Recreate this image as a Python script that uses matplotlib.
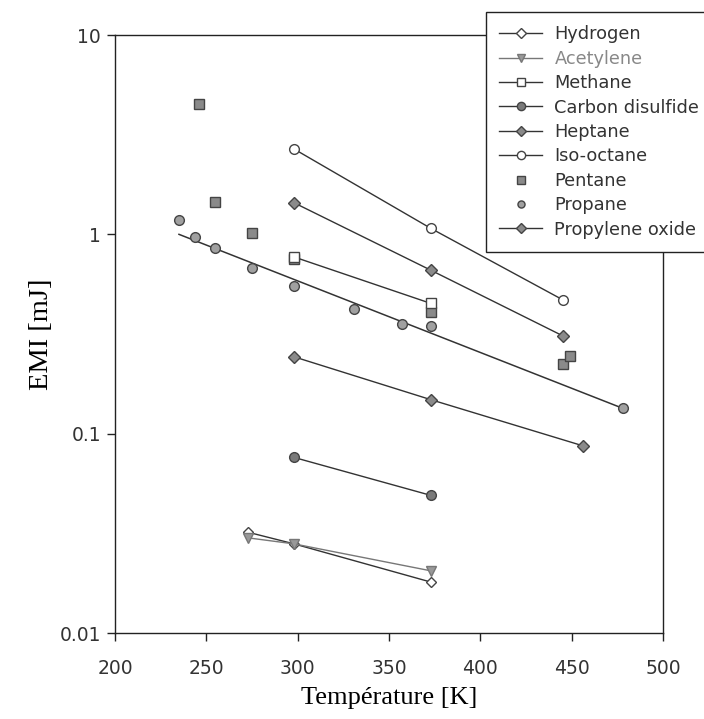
import matplotlib.pyplot as plt
from matplotlib.lines import Line2D

# EMI vs temperature
temp_hydrogen = [273, 298, 373]
emi_hydrogen = [0.032, 0.028, 0.018]

temp_acetylene = [273, 298, 373]
emi_acetylene = [0.030, 0.028, 0.0205]

temp_methane = [298, 373]
emi_methane = [0.77, 0.45]

temp_cs2 = [298, 373]
emi_cs2 = [0.076, 0.049]

temp_heptane = [298, 373, 445]
emi_heptane = [1.44, 0.66, 0.31]

temp_isooctane = [298, 373, 445]
emi_isooctane = [2.68, 1.07, 0.47]

temp_pentane = [246, 255, 275, 298, 373, 445, 449]
emi_pentane = [4.5, 1.46, 1.02, 0.75, 0.41, 0.224, 0.244]

temp_propane = [235, 244, 255, 275, 298, 331, 357, 373, 478]
emi_propane = [1.18, 0.97, 0.85, 0.68, 0.55, 0.42, 0.355, 0.345, 0.134]
# trend line drawn through the propane points
temp_propane_fit = [235, 478]
emi_propane_fit = [1.0, 0.134]

temp_propox = [298, 373, 456]
emi_propox = [0.243, 0.148, 0.087]

line_col = "#333333"
edge_col = "#444444"
fill_col = "#8a8a8a"

fig = plt.figure(figsize=(7.04, 7.19), dpi=100)
ax = fig.add_axes([0.1634, 0.1196, 0.7784, 0.8317])

ax.plot(temp_propane_fit, emi_propane_fit, color=line_col, lw=1.1, zorder=2)

ax.plot(temp_hydrogen, emi_hydrogen, color=line_col, lw=1.0, marker="D", ms=5.5,
        mfc="white", mec=edge_col, label="Hydrogen", zorder=3)
ax.plot(temp_acetylene, emi_acetylene, color="#777777", lw=1.0, marker="v", ms=6.5,
        mfc="#999999", mec="#777777", label="Acetylene", zorder=3)
ax.plot(temp_pentane, emi_pentane, ls="none", marker="s", ms=6.5,
        mfc=fill_col, mec=edge_col, label="_pentane", zorder=3)
ax.plot(temp_methane, emi_methane, color=line_col, lw=1.0, marker="s", ms=6.5,
        mfc="white", mec=edge_col, label="Methane", zorder=3)
ax.plot(temp_cs2, emi_cs2, color=line_col, lw=1.0, marker="o", ms=7,
        mfc="#7a7a7a", mec=edge_col, label="Carbon disulfide", zorder=3)
ax.plot(temp_heptane, emi_heptane, color=line_col, lw=1.0, marker="D", ms=6,
        mfc=fill_col, mec=edge_col, label="Heptane", zorder=3)
ax.plot(temp_isooctane, emi_isooctane, color=line_col, lw=1.0, marker="o", ms=7,
        mfc="white", mec=edge_col, label="Iso-octane", zorder=3)
ax.plot(temp_propane, emi_propane, ls="none", marker="o", ms=7,
        mfc="#a0a0a0", mec=edge_col, label="_propane", zorder=4)
ax.plot(temp_propox, emi_propox, color=line_col, lw=1.0, marker="D", ms=6,
        mfc=fill_col, mec=edge_col, label="Propylene oxide", zorder=3)

ax.set_yscale("log")
ax.set_xlim(200, 500)
ax.set_ylim(0.01, 10)
ax.set_xticks([200, 250, 300, 350, 400, 450, 500])
ax.set_yticks([0.01, 0.1, 1, 10])
ax.set_yticklabels(["0.01", "0.1", "1", "10"])
ax.minorticks_off()
ax.tick_params(direction="out", length=6, width=1, colors="#222222",
               labelsize=13.5, labelcolor="#333333")
ax.tick_params(axis="y", pad=4)
ax.tick_params(axis="x", pad=13)
for s in ax.spines.values():
    s.set_color("#222222")
    s.set_linewidth(1.0)

ax.set_xlabel("Température [K]", family="Liberation Serif", fontsize=19, labelpad=6)
ax.set_ylabel("EMI [mJ]", family="Liberation Serif", fontsize=20.5, labelpad=4)

# legend in the order of the original
h, l = ax.get_legend_handles_labels()
lookup = dict(zip(l, h))
pent = Line2D([], [], ls="none", marker="s", ms=6, mfc=fill_col, mec=edge_col)
prop = Line2D([], [], ls="none", marker="o", ms=6, mfc="#a0a0a0", mec=edge_col)
handles = [lookup["Hydrogen"], lookup["Acetylene"], lookup["Methane"],
           lookup["Carbon disulfide"], lookup["Heptane"], lookup["Iso-octane"],
           pent, prop, lookup["Propylene oxide"]]
labels = ["Hydrogen", "Acetylene", "Methane", "Carbon disulfide", "Heptane",
          "Iso-octane", "Pentane", "Propane", "Propylene oxide"]
leg = fig.legend(handles, labels, loc="upper left",
                 bbox_to_anchor=(486 / 704, 1 - 12 / 719), fontsize=12.8,
                 frameon=True, fancybox=False, edgecolor="#222222", framealpha=1,
                 handlelength=2.4, labelspacing=0.36, borderpad=0.75,
                 handletextpad=0.7, markerscale=0.85, borderaxespad=0)
leg.get_frame().set_linewidth(1.0)
for t in leg.get_texts():
    t.set_color("#333333")
leg.get_texts()[1].set_color("#888888")

fig.savefig("out.png", dpi=100, facecolor="white")
